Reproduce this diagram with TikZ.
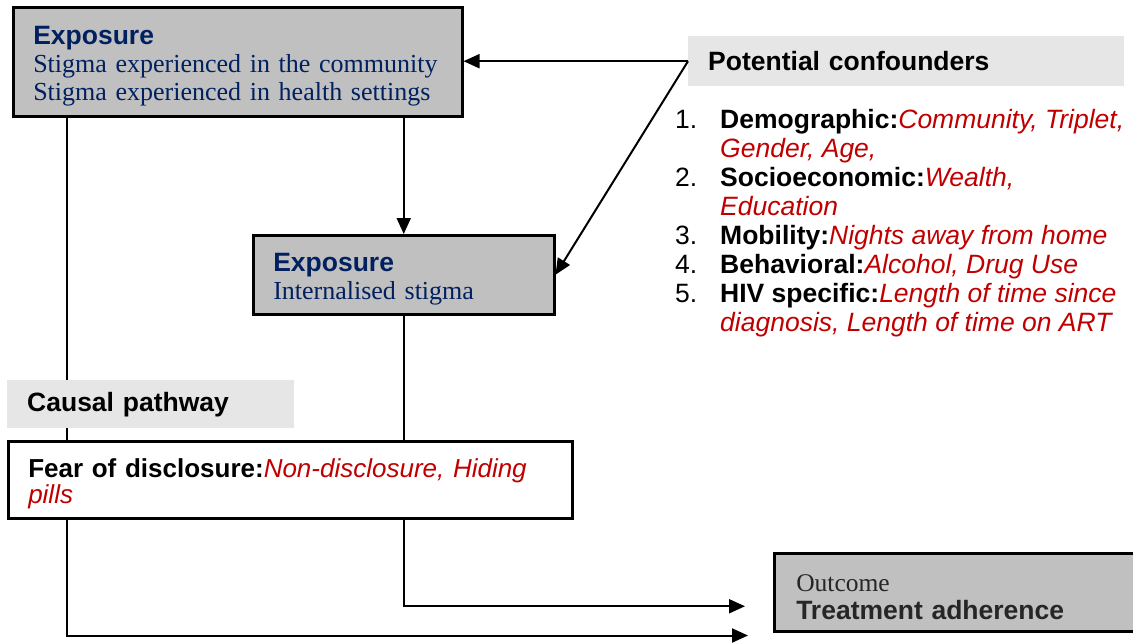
\documentclass[tikz,border=0pt]{standalone}
\usepackage{fontspec}
\setmainfont{Liberation Serif}
\setsansfont{Liberation Sans}
\usetikzlibrary{arrows.meta,positioning}

\definecolor{navyblue}{HTML}{002060}
\definecolor{darkred}{HTML}{C00000}
\definecolor{boxgray}{HTML}{C0C0C0}
\definecolor{labelgray}{HTML}{E6E6E6}
\definecolor{outtext}{HTML}{262626}

\newcommand{\headtxt}[1]{{\sffamily\bfseries\fontsize{26.5}{28}\selectfont\rule{0pt}{27pt}#1}}
\newcommand{\redit}[1]{{\color{darkred}\itshape #1}}

\tikzset{
  varbox/.style={draw, line width=2.5pt, fill=boxgray, anchor=north west, align=left,
    text=navyblue, font=\fontsize{26}{28}\selectfont, inner xsep=20pt, inner ysep=0pt},
  seclabel/.style={fill=labelgray, anchor=north west, align=left, inner xsep=20pt,
    font=\sffamily\bfseries\fontsize{26.5}{30}\selectfont},
  link/.style={line width=2pt, -{Triangle[length=16pt,width=14pt]}},
}

\begin{document}
\begin{tikzpicture}[x=1pt,y=-1pt]
  \useasboundingbox (0,0) rectangle (1133,643);

  % exposures
  \node[varbox, text width=409pt, minimum height=109pt] (expcomm) at (12,6)
    {\headtxt{Exposure}\\Stigma experienced in the community\\Stigma experienced in health settings};
  \node[varbox, text width=261pt, minimum height=79pt] (expint) at (252,234)
    {\headtxt{Exposure}\\Internalised stigma};

  % outcome
  \node[varbox, text width=323pt, minimum height=78pt, inner xsep=22pt, text=outtext] (outcome) at (773,552)
    {{\fontsize{25.5}{29}\selectfont\rule{0pt}{26pt}Outcome}\\{\sffamily\bfseries\fontsize{26.5}{29}\selectfont Treatment adherence}};

  % confounders
  \node[seclabel, text width=396pt, minimum height=50pt] (conf) at (688,36) {Potential confounders};
  \node[anchor=north west, inner sep=0pt, font=\sffamily\fontsize{26.5}{29}\selectfont] (conflist) at (675,107.7)
    {\begin{tabular}{@{}p{45pt}@{}l@{}}
      1. & \textbf{Demographic:}\redit{Community, Triplet,}\\
         & \redit{Gender, Age,}\\
      2. & \textbf{Socioeconomic:}\redit{Wealth,}\\
         & \redit{Education}\\
      3. & \textbf{Mobility:}\redit{Nights away from home}\\
      4. & \textbf{Behavioral:}\redit{Alcohol, Drug Use}\\
      5. & \textbf{HIV specific:}\redit{Length of time since}\\
         & \redit{diagnosis, Length of time on ART}
    \end{tabular}};

  \coordinate (outlow) at ([shift={(-25,3)}]outcome.south west);
  \coordinate (outhigh) at ([shift={(-28,14)}]outcome.west);

  % connectors
  \draw[link] (conf.west) -- (conf.west -| expcomm.east);
  \draw[link] (conf.west) -- (expint.east);
  \draw[link] (expcomm.south -| expint.north) -- (expint.north);
  \draw[link] ([xshift=55pt]expcomm.south west) |- (outlow);
  \draw[link] (expint.south) |- (outhigh);

  % causal pathway
  \node[seclabel, text width=247pt, minimum height=48pt] (causal) at (7,380) {Causal pathway};
  \node[draw, line width=2.5pt, fill=white, anchor=north west, align=left, inner xsep=20pt,
    text width=524pt, minimum height=77pt, font=\sffamily\fontsize{26}{26}\selectfont] (fear) at (7,440)
    {\rule{0pt}{26pt}\textbf{Fear of disclosure:}\redit{Non-disclosure, Hiding}\\\redit{pills}};
\end{tikzpicture}
\end{document}
